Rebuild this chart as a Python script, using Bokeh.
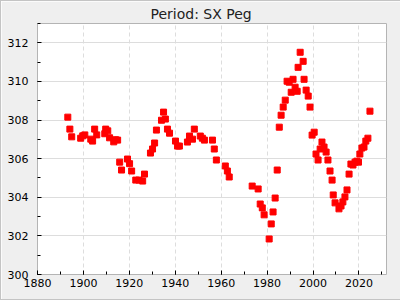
from bokeh.plotting import figure
from bokeh.embed import file_html
from bokeh.resources import INLINE
from bokeh.models import FixedTicker, Range1d, ColumnDataSource

years = [1893.2, 1894.1, 1894.9, 1898.8, 1899.7, 1900.6, 1903.2, 1904.0, 1904.9, 1905.8,
         1909.3, 1909.7, 1910.6, 1911.4, 1913.2, 1914.0, 1914.9, 1915.8, 1916.6, 1919.2,
         1920.1, 1921.0, 1922.8, 1924.2, 1925.8, 1926.6, 1929.2, 1930.1, 1931.0, 1931.8,
         1934.0, 1934.9, 1935.7, 1936.6, 1937.5, 1940.1, 1941.0, 1941.8, 1945.3, 1946.2,
         1947.5, 1948.3, 1950.9, 1951.8, 1952.7, 1956.2, 1957.0, 1957.9, 1961.8, 1962.7,
         1963.5, 1973.5, 1976.1, 1977.0, 1977.9, 1978.7, 1980.9, 1981.8, 1982.6, 1983.5,
         1984.4, 1985.3, 1986.1, 1987.0, 1987.9, 1988.7, 1989.6, 1990.5, 1991.3, 1992.2,
         1993.1, 1993.5, 1994.4, 1995.7, 1996.1, 1997.0, 1997.9, 1998.7, 1999.6, 2000.5,
         2001.3, 2002.2, 2003.1, 2003.9, 2004.8, 2005.7, 2006.5, 2007.4, 2008.3, 2008.8,
         2009.6, 2011.3, 2012.2, 2013.0, 2013.9, 2014.8, 2015.7, 2016.5, 2017.4, 2018.3,
         2019.1, 2019.8, 2020.4, 2021.3, 2022.2, 2023.0, 2023.9, 2024.8]

periods = [308.15, 307.53, 307.13, 307.06, 307.18, 307.23, 307.01, 306.91, 307.53, 307.23,
           307.29, 307.53, 307.44, 307.08, 306.87, 306.98, 306.96, 305.82, 305.41, 305.98,
           305.74, 305.36, 304.89, 304.89, 304.84, 305.20, 306.29, 306.50, 306.81, 307.48,
           307.99, 308.41, 308.05, 307.53, 307.32, 306.91, 306.65, 306.65, 306.86, 307.17,
           307.01, 307.53, 307.17, 307.06, 306.96, 306.96, 306.50, 305.93, 305.62, 305.36,
           305.05, 304.58, 304.43, 303.65, 303.45, 303.09, 301.84, 302.62, 303.24, 303.96,
           305.41, 307.63, 308.25, 308.67, 309.03, 310.01, 309.96, 309.44, 310.11, 309.70,
           309.49, 310.73, 311.51, 311.04, 310.11, 309.55, 309.24, 308.67, 307.22, 307.37,
           306.24, 305.93, 306.50, 306.86, 306.60, 306.34, 305.93, 305.36, 304.89, 304.12,
           303.71, 303.40, 303.55, 303.76, 304.02, 304.38, 305.20, 305.72, 305.67, 305.82,
           305.87, 305.82, 306.24, 306.55, 306.60, 306.91, 307.06, 308.46]

x_major = [1880, 1900, 1920, 1940, 1960, 1980, 2000, 2020]
x_minor = [1880, 1890, 1900, 1910, 1920, 1930, 1940, 1950, 1960, 1970, 1980, 1990, 2000, 2010, 2020, 2030]
y_major = [300, 302, 304, 306, 308, 310, 312]
y_minor = list(range(300, 314))

FONT = "DejaVu Sans"

p = figure(width=400, height=300, output_backend="svg", toolbar_location=None,
           x_range=Range1d(1880, 2032), y_range=Range1d(300, 313),
           title="Period: SX Peg",
           min_border_left=36, min_border_right=15, min_border_top=22, min_border_bottom=27)

p.background_fill_color = "white"
p.border_fill_color = "#efefef"
p.outline_line_color = "#b4b4b4"
p.outline_line_width = 1

p.title.align = "left"
p.title.offset = 113
p.title.text_font = FONT
p.title.text_font_size = "14px"
p.title.text_font_style = "normal"
p.title.text_color = "#222222"
p.title.standoff = 4

src = ColumnDataSource(dict(x=years, y=periods))
p.scatter("x", "y", source=src, marker="square", size=6, fill_color="#ff0000", line_color="#ff0000")

for ax in (p.xaxis[0], p.yaxis[0]):
    ax.axis_line_color = None
    ax.major_tick_in = 4
    ax.major_tick_out = 0
    ax.minor_tick_in = 3
    ax.minor_tick_out = 0
    ax.major_tick_line_color = "black"
    ax.minor_tick_line_color = "black"
    ax.major_label_text_font = FONT
    ax.major_label_text_font_size = "11px"
    ax.major_label_text_color = "black"

p.xaxis.ticker = FixedTicker(ticks=x_major, minor_ticks=x_minor)
p.yaxis.ticker = FixedTicker(ticks=y_major, minor_ticks=y_minor)
p.xaxis.major_label_standoff = 4
p.yaxis.major_label_standoff = 9

p.ygrid.grid_line_color = "#dddddd"
p.xgrid.grid_line_color = "#dddddd"
p.xgrid.grid_line_dash = "4 3"

p.styles = {"border-top": "1px solid #c4c4c4", "border-left": "1px solid #c4c4c4",
            "border-bottom": "1px solid #c4c4c4", "box-sizing": "border-box"}

open("out.html", "w").write(file_html(p, INLINE))
